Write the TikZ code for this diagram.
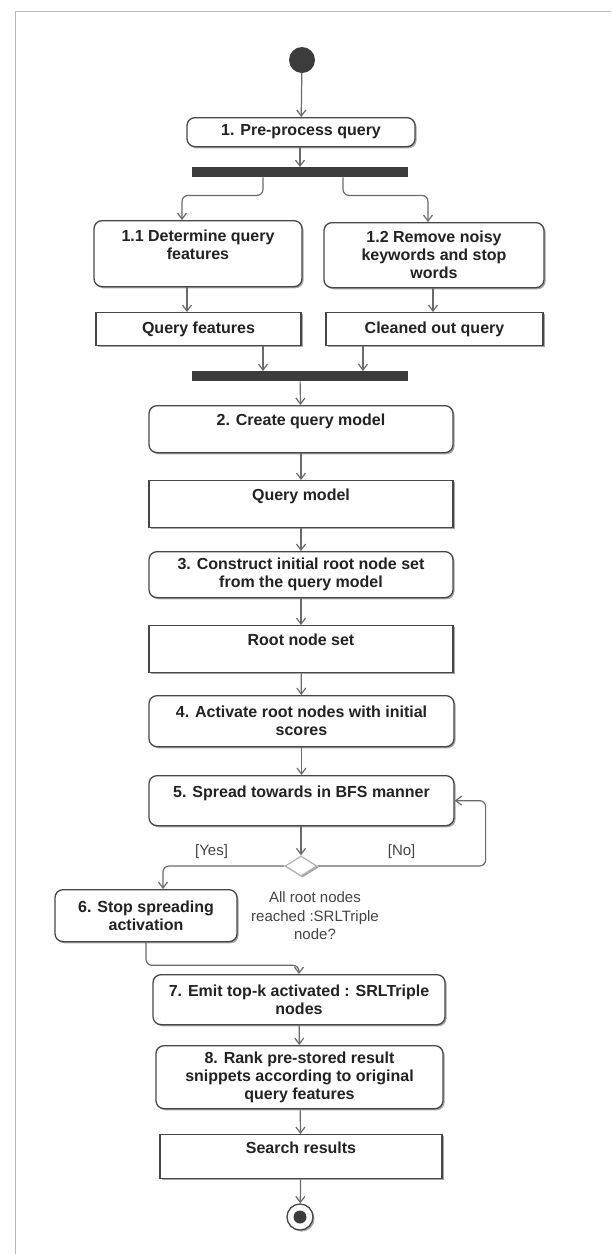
\documentclass[tikz,border=0pt]{standalone}
\usepackage{fontspec}
\setmainfont{Liberation Sans}
\usetikzlibrary{arrows.meta,shapes.geometric,shadows}

\definecolor{umlline}{HTML}{474747}
\definecolor{umlflow}{HTML}{6A6A6A}
\definecolor{umlbar}{HTML}{3C3C3C}
\definecolor{umltext}{HTML}{222222}

\tikzset{
  boxshadow/.style={drop shadow={shadow xshift=1.6pt,shadow yshift=-1.6pt,opacity=0.35,fill=black}},
  action/.style={draw=umlline, line width=1.3pt, rounded corners=8pt, fill=white, boxshadow,
    anchor=north, align=center, inner sep=2pt, text=umltext,
    font=\fontsize{16}{18}\selectfont\bfseries},
  object/.style={action, sharp corners},
  forkbar/.style={fill=umlbar, anchor=north, minimum height=10pt, minimum width=216pt, inner sep=0pt},
  flow/.style={draw=umlflow, line width=1.2pt, -{Straight Barb[length=6pt,width=9pt]}},
  guard/.style={font=\fontsize{15}{18.5}\selectfont, text=umltext!85, align=center},
}

\begin{document}
\begin{tikzpicture}[x=1pt,y=-1pt]

  \useasboundingbox (0,0) rectangle (611,1254);
  \draw[gray!55, line width=1pt] (611,11) -- (15,11) -- (15,1254); %% frame

  %% start and first action
  \node[circle, fill=umlbar, minimum size=26pt, inner sep=0pt] (start) at (302,60) {};
  \node[action, minimum width=228pt, minimum height=29pt] (a1) at (301,117) {1. Pre-process query};
  \node[forkbar] (fork) at (300,167) {};

  %% parallel branch
  \node[action, minimum width=208pt, minimum height=66pt] (a11) at (198,220)
  {1.1 Determine query\\features\\~};
  \node[action, minimum width=220pt, minimum height=65pt] (a12) at (434,222)
  {1.2 Remove noisy\\keywords and stop\\words};
  \node[object, minimum width=205pt, minimum height=33pt] (o11) at (198.5,312) {Query features};
  \node[object, minimum width=217pt, minimum height=33pt] (o12) at (434.5,312) {Cleaned out query};
  \node[forkbar] (join) at (300,371) {};

  %% main line
  \node[action, minimum width=304pt, minimum height=47pt] (a2) at (301,405) {2. Create query model\\~};
  \node[object, minimum width=304pt, minimum height=47pt] (o2) at (301,480) {Query model\\~};
  \node[action, minimum width=304pt, minimum height=46pt] (a3) at (301,551)
  {3. Construct initial root node set\\from the query model};
  \node[object, minimum width=304pt, minimum height=47pt] (o3) at (301,625) {Root node set\\~};
  \node[action, minimum width=305pt, minimum height=51pt] (a4) at (301.5,695)
  {4. Activate root nodes with initial\\scores};
  \node[action, minimum width=305pt, minimum height=50pt] (a5) at (301.5,775)
  {5. Spread towards in BFS manner\\~};

  %% decision
  \node[diamond, draw=gray!60, line width=1.2pt, fill=white, boxshadow,
  minimum width=32pt, minimum height=20pt, inner sep=0pt] (dec) at (301,866) {};
  \node[guard] (cond) at (315,916) {All root nodes\\reached :SRLTriple\\node?};
  \node[action, minimum width=182pt, minimum height=52pt] (a6) at (146,889)
  {6. Stop spreading\\activation};

  %% last actions
  \node[action, minimum width=292pt, minimum height=50pt] (a7) at (299,974)
  {7. Emit top-k activated : SRLTriple\\nodes};
  \node[action, minimum width=287pt, minimum height=63pt] (a8) at (299.5,1045)
  {8. Rank pre-stored result\\snippets according to original\\query features};
  \node[object, minimum width=282pt, minimum height=44pt] (o8) at (301,1134) {Search results\\~};
  \node[circle, draw=umlline, line width=1.3pt, fill=white, boxshadow, minimum size=26pt] (stop) at (300,1217) {};
  \node[circle, fill=umlbar, minimum size=13pt, inner sep=0pt] (stopdot) at (stop) {};

  %% flows
  \draw[flow] (start) -- (a1);
  \draw[flow] (a1.south -| fork) -- (fork);
  \draw[flow, rounded corners=6pt] (fork.south -| 263,0) -- ++(0,18) -| ([xshift=-16pt]a11.north);
  \draw[flow, rounded corners=6pt] (fork.south -| 343,0) -- ++(0,18) -| ([xshift=-6pt]a12.north);
  \draw[flow] (a11.south -| 187,0) -- (o11.north -| 187,0);
  \draw[flow] (a12.south -| 433,0) -- (o12.north -| 433,0);
  \draw[flow] (o11.south -| 263,0) -- (join.north -| 263,0);
  \draw[flow] (o12.south -| 363,0) -- (join.north -| 363,0);
  \draw[flow] (join) -- (a2);
  \draw[flow] (a2) -- (o2);
  \draw[flow] (o2) -- (a3);
  \draw[flow] (a3) -- (o3);
  \draw[flow] (o3) -- (a4);
  \draw[flow] (a4) -- (a5);
  \draw[flow] (a5.south -| dec) -- (dec);

  %% guards
  \draw[flow, rounded corners=6pt] (dec.east)
  -- node[above, guard, yshift=3pt] {[No]} ++(168,0) |- (a5.east);
  \draw[flow, rounded corners=6pt] (dec.west) -| ([xshift=17pt]a6.north)
  node[pos=0.3, above, guard, yshift=3pt] {[Yes]};

  \draw[flow, rounded corners=6pt] (a6.south) -- ++(0,23) -| (a7.north);
  \draw[flow] (a7) -- (a8);
  \draw[flow] (a8) -- (o8);
  \draw[flow] (o8) -- (stop);

\end{tikzpicture}
\end{document}
